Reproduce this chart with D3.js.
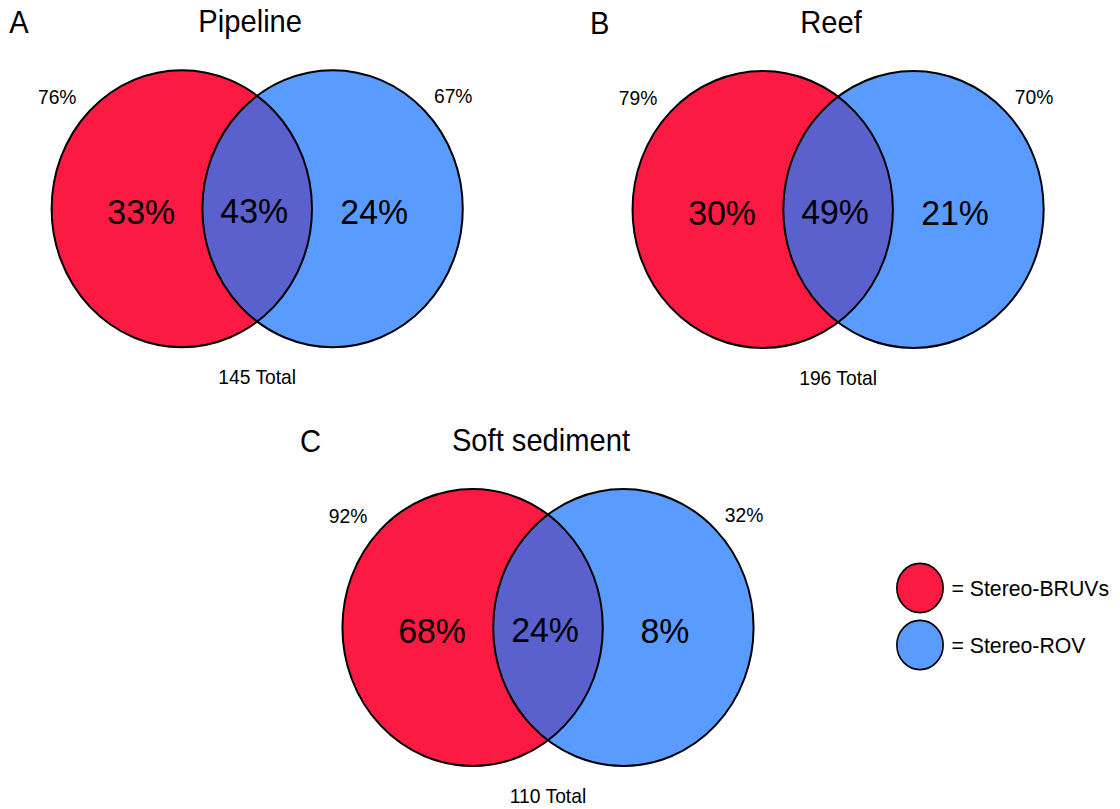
<!DOCTYPE html>
<html>
<head>
<meta charset="utf-8">
<script src="https://cdn.jsdelivr.net/npm/d3@7"></script>
<style>
  html, body { margin: 0; padding: 0; background: #fff; }
  svg { display: block; }
  text { font-family: "Liberation Sans", Arial, sans-serif; fill: #000; }
</style>
</head>
<body>
<svg id="chart" width="1120" height="809"></svg>
<script>
// Species detected per habitat, as % of total species
const panelLetters = ["A", "B", "C"];
const habitats = ["Pipeline", "Reef", "Soft sediment"];
const bruvsOnly = [33, 30, 68];
const shared = [43, 49, 24];
const rovOnly = [24, 21, 8];
const speciesTotal = [145, 196, 110];
const methods = ["Stereo-BRUVs", "Stereo-ROV"];

// Layout
const W = 1120, H = 809;
const squeeze = 0.94;               // horizontal compression of the figure
const R = 138.5;                    // circle radius (vertical)
const half = 80.2;                  // half distance between circle centres (unsqueezed)
const panelCentres = [[257.2, 208.7], [838.1, 209.5], [548, 627.5]];

const colour = d3.scaleOrdinal().domain(methods).range(["#FA1A42", "#5A9BFF"]);
const overlapColour = "#5A60CC";

// x position of each region label relative to the panel centre
const regionX = d3.scaleOrdinal().domain(["left", "mid", "right"]).range([-116, -3, 117]);

const svg = d3.select("#chart");

const panels = habitats.map((h, i) => ({
  letter: panelLetters[i],
  habitat: h,
  left: bruvsOnly[i],
  mid: shared[i],
  right: rovOnly[i],
  leftTotal: bruvsOnly[i] + shared[i],
  rightTotal: rovOnly[i] + shared[i],
  total: speciesTotal[i],
  cx: panelCentres[i][0],
  cy: panelCentres[i][1]
}));

function addText(sel, x, y, size, str, anchor) {
  sel.append("text")
    .attr("transform", `translate(${x},${y}) scale(${squeeze},1)`)
    .attr("text-anchor", anchor || "middle")
    .style("font-size", size + "px")
    .text(str);
}

const defs = svg.append("defs");

panels.forEach((p, i) => {
  const g = svg.append("g").attr("transform", `translate(${p.cx},${p.cy})`);
  const shapes = g.append("g").attr("transform", `scale(${squeeze},1)`);

  const clipId = "clip-bruvs-" + i;
  defs.append("clipPath").attr("id", clipId)
    .attr("clipPathUnits", "userSpaceOnUse")
    .append("circle").attr("cx", -half).attr("cy", 0).attr("r", R);

  const circles = [{ m: methods[0], x: -half }, { m: methods[1], x: half }];

  shapes.selectAll("circle.fill").data(circles).join("circle")
    .attr("class", "fill")
    .attr("cx", d => d.x).attr("cy", 0).attr("r", R)
    .attr("fill", d => colour(d.m));

  // overlap lens
  shapes.append("circle")
    .attr("cx", half).attr("cy", 0).attr("r", R)
    .attr("clip-path", `url(#${clipId})`)
    .attr("fill", overlapColour);

  shapes.selectAll("circle.outline").data(circles).join("circle")
    .attr("class", "outline")
    .attr("cx", d => d.x).attr("cy", 0).attr("r", R)
    .attr("fill", "none")
    .attr("stroke", "#000")
    .attr("stroke-width", 2)
    .attr("vector-effect", "non-scaling-stroke");

  // panel letter and title
  addText(g, -248, -176, 31, p.letter, "start");
  addText(g, -7, -177, 31, p.habitat);

  // per-method totals
  addText(g, -200, -105, 20.5, p.leftTotal + "%");
  addText(g, 196, -106, 20.5, p.rightTotal + "%");

  // region values
  addText(g, regionX("left"), 15, 36, p.left + "%");
  addText(g, regionX("mid"), 14, 36, p.mid + "%");
  addText(g, regionX("right"), 15, 36, p.right + "%");

  // species total
  addText(g, 0, 175.5, 20.5, p.total + " Total");
});

// legend
const legend = svg.append("g").attr("transform", "translate(920,588)");
const ly = d3.scalePoint().domain(methods).range([0, 57]);
methods.forEach(m => {
  const row = legend.append("g").attr("transform", `translate(0,${ly(m)})`);
  row.append("ellipse")
    .attr("rx", 24 * squeeze + 0.6).attr("ry", 24.6)
    .attr("fill", colour(m))
    .attr("stroke", "#000").attr("stroke-width", 1.6);
  addText(row, 31.5, 8, 22.6, "= " + m, "start");
});
</script>
</body>
</html>
